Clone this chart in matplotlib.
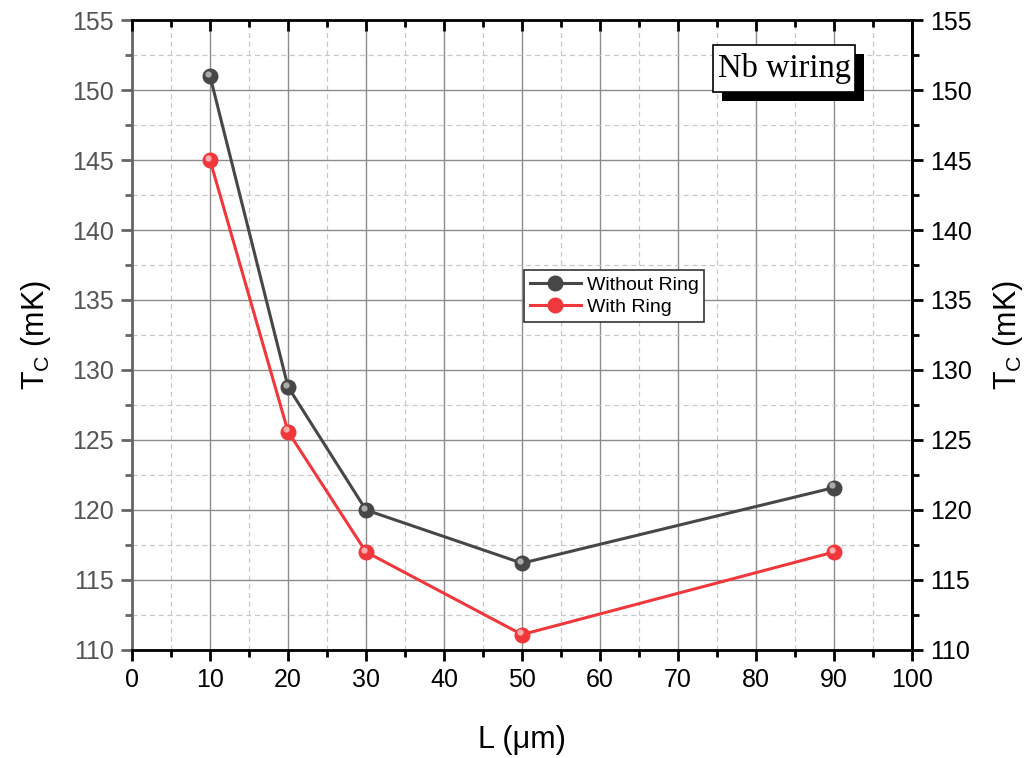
import matplotlib.pyplot as plt
import matplotlib.transforms as mtransforms
from matplotlib.ticker import MultipleLocator

plt.rcParams['font.family'] = ['Liberation Sans', 'DejaVu Sans']
plt.rcParams['mathtext.fontset'] = 'custom'
plt.rcParams['mathtext.rm'] = 'Liberation Sans'

L_um = [10, 20, 30, 50, 90]
tc_without_ring = [151.0, 128.8, 120.0, 116.2, 121.6]
tc_with_ring = [145.0, 125.6, 117.0, 111.1, 117.0]


def ball_line(ax, fig, x, y, color, shine, label):
    # line with round markers plus a small highlight to give a shaded ball look
    ax.plot(x, y, '-', color=color, lw=2.2, marker='o', ms=10.5,
            mfc=color, mec=color, label=label, zorder=5)
    off = mtransforms.offset_copy(ax.transData, fig=fig, x=-1.3, y=1.6, units='points')
    ax.plot(x, y, 'o', ms=4.5, mfc=shine, mec='none', alpha=0.85,
            transform=off, zorder=6)


fig = plt.figure(figsize=(10.33, 7.58), dpi=100)
ax = fig.add_axes([0.1278, 0.1425, 0.7551, 0.8311])

ball_line(ax, fig, L_um, tc_without_ring, '#474747', '#bdbdbd', 'Without Ring')
ball_line(ax, fig, L_um, tc_with_ring, '#f0383c', '#ffc4c4', 'With Ring')

ax.set_xlim(0, 100)
ax.set_ylim(110, 155)
ax.xaxis.set_major_locator(MultipleLocator(10))
ax.xaxis.set_minor_locator(MultipleLocator(5))
ax.yaxis.set_major_locator(MultipleLocator(5))
ax.yaxis.set_minor_locator(MultipleLocator(2.5))

ax.grid(which='major', color='#8c8c8c', lw=1.0, ls='-')
ax.grid(which='minor', color='#c8c8c8', lw=0.9, ls=(0, (4, 3)))
ax.set_axisbelow(True)

for side in ['top', 'bottom', 'right']:
    ax.spines[side].set_color('black')
    ax.spines[side].set_linewidth(2)
ax.spines['left'].set_color('#666666')
ax.spines['left'].set_linewidth(2)

ax.tick_params(axis='x', which='major', direction='out', length=8, width=2,
               labelsize=18, colors='black', pad=5)
ax.tick_params(axis='x', which='minor', direction='out', length=5, width=2)
ax.tick_params(axis='y', which='major', direction='out', length=8, width=2,
               labelsize=18, color='#666666', labelcolor='#555555', pad=5)
ax.tick_params(axis='y', which='minor', direction='out', length=5, width=2,
               color='#666666')

ax.set_xlabel('L (μm)', fontsize=22, labelpad=24)
ax.set_ylabel(r'T$_\mathrm{C}$ (mK)', fontsize=22, labelpad=14)

# inward ticks along the top edge
ax_top = ax.twiny()
ax_top.set_xlim(0, 100)
ax_top.xaxis.set_major_locator(MultipleLocator(10))
ax_top.xaxis.set_minor_locator(MultipleLocator(5))
ax_top.tick_params(which='major', direction='in', length=8, width=2, labeltop=False)
ax_top.tick_params(which='minor', direction='in', length=5, width=2)
for s in ax_top.spines.values():
    s.set_visible(False)

ax2 = ax.twinx()
ax2.set_ylim(110, 155)
ax2.yaxis.set_major_locator(MultipleLocator(5))
ax2.yaxis.set_minor_locator(MultipleLocator(2.5))
ax2.tick_params(which='major', direction='out', length=8, width=2, labelsize=18, pad=5)
ax2.tick_params(which='minor', direction='out', length=5, width=2)
for s in ax2.spines.values():
    s.set_visible(False)
ax2.spines['right'].set_visible(True)
ax2.spines['right'].set_linewidth(2)
ax2.set_ylabel(r'T$_\mathrm{C}$ (mK)', fontsize=22, labelpad=14)

leg = ax2.legend(*ax.get_legend_handles_labels(), loc='upper left',
                 bbox_to_anchor=(0.503, 0.603), fontsize=14,
                 frameon=True, fancybox=False, edgecolor='#333333',
                 handlelength=2.6, handletextpad=0.3, borderpad=0.3,
                 labelspacing=0.25, borderaxespad=0, framealpha=1)
leg.get_frame().set_linewidth(1.2)

# label box with a drop shadow
bx, by, bw, bh = 0.745, 0.886, 0.182, 0.074
ax2.add_patch(plt.Rectangle((bx + 0.0115, by - 0.0143), bw, bh, transform=ax.transAxes,
                            fc='black', ec='none', zorder=9))
ax2.add_patch(plt.Rectangle((bx, by), bw, bh, transform=ax.transAxes,
                            fc='white', ec='black', lw=1.2, zorder=10))
ax2.text(bx + bw / 2, by + bh / 2, 'Nb wiring', transform=ax.transAxes, fontsize=23.5,
         family='Liberation Serif', ha='center', va='center', zorder=11)

fig.savefig('out.png', dpi=100)
